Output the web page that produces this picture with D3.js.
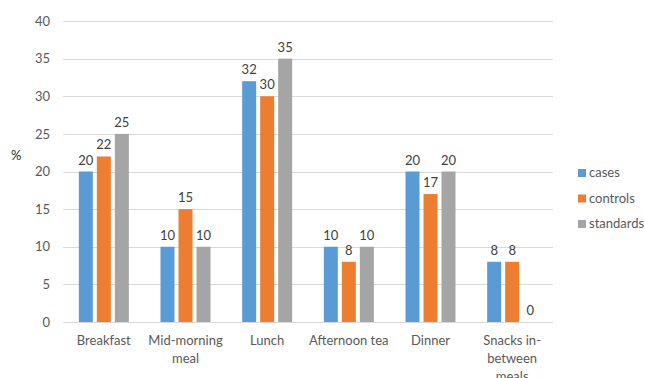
<!DOCTYPE html>
<html>
<head>
<meta charset="utf-8">
<script src="https://cdn.jsdelivr.net/npm/d3@7"></script>
<style>
body { margin: 0; background: #fff; }
text { font-family: Lato, "Open Sans", sans-serif; }
</style>
</head>
<body>
<div id="main"></div>
<script>
// chart data
var categories = ["Breakfast", "Mid-morning meal", "Lunch", "Afternoon tea", "Dinner", "Snacks in-between meals"];
var catLines = [["Breakfast"], ["Mid-morning", "meal"], ["Lunch"], ["Afternoon tea"], ["Dinner"], ["Snacks in-", "between", "meals"]];
var seriesNames = ["cases", "controls", "standards"];
var cases = [20, 10, 32, 10, 20, 8];
var controls = [22, 15, 30, 8, 17, 8];
var standards = [25, 10, 35, 10, 20, 0];
var yTicks = [0, 5, 10, 15, 20, 25, 30, 35, 40];
var colors = ["#5B9BD5", "#ED7D31", "#A5A5A5"];

var w = 645, h = 378;
var seriesVals = [cases, controls, standards];

var svg = d3.select("#main")
    .append("svg")
    .attr("width", w)
    .attr("height", h);

var x0 = d3.scaleBand().domain(categories).range([63, 553]).padding(0);
var groupW = 50;
var x1 = d3.scaleBand().domain(seriesNames).range([0, groupW]).paddingInner(4 / 18);
var y = d3.scaleLinear().domain([0, 40]).range([322, 21]);

// gridlines
svg.append("g")
    .selectAll("line")
    .data(yTicks)
    .enter()
    .append("line")
    .attr("x1", 63)
    .attr("x2", 553)
    .attr("y1", function(d) { return Math.round(y(d)) + 0.5; })
    .attr("y2", function(d) { return Math.round(y(d)) + 0.5; })
    .attr("stroke", "#d9d9d9")
    .attr("stroke-width", 1);

// y axis labels
var yAxis = d3.axisLeft(y).tickValues(yTicks).tickSize(0).tickPadding(13);
var ya = svg.append("g").attr("transform", "translate(63,0)").call(yAxis);
ya.select(".domain").remove();
ya.selectAll("text").attr("fill", "#595959").style("font-size", "13px").style("font-family", "Lato, sans-serif");

svg.append("text")
    .attr("x", 11)
    .attr("y", 160)
    .attr("fill", "#262626")
    .style("font-size", "13px")
    .text("%");

// bars
var groups = svg.selectAll(".grp")
    .data(categories)
    .enter()
    .append("g")
    .attr("transform", function(d) {
        return "translate(" + (x0(d) + (x0.bandwidth() - groupW) / 2) + ",0)";
    });

groups.selectAll("rect")
    .data(function(d, i) {
        return seriesNames.map(function(s, j) { return { s: s, v: seriesVals[j][i], j: j }; });
    })
    .enter()
    .append("rect")
    .attr("x", function(d) { return x1(d.s); })
    .attr("width", x1.bandwidth())
    .attr("y", function(d) { return y(d.v); })
    .attr("height", function(d) { return y(0) - y(d.v); })
    .attr("fill", function(d) { return colors[d.j]; });

groups.selectAll(".lbl")
    .data(function(d, i) {
        return seriesNames.map(function(s, j) { return { s: s, v: seriesVals[j][i], j: j }; });
    })
    .enter()
    .append("text")
    .attr("x", function(d) { return x1(d.s) + x1.bandwidth() / 2; })
    .attr("y", function(d) { return y(d.v) - 7; })
    .attr("text-anchor", "middle")
    .attr("fill", "#404040")
    .style("font-size", "13px")
    .text(function(d) { return d.v; });

// x labels
var xl = svg.selectAll(".xl")
    .data(categories)
    .enter()
    .append("text")
    .attr("x", function(d) { return x0(d) + x0.bandwidth() / 2; })
    .attr("y", 345)
    .attr("text-anchor", "middle")
    .attr("fill", "#595959")
    .style("font-size", "13px");

xl.selectAll("tspan")
    .data(function(d, i) { return catLines[i]; })
    .enter()
    .append("tspan")
    .attr("x", function() { var p = this.parentNode; return p.getAttribute("x"); })
    .attr("dy", function(d, i) { return i === 0 ? 0 : 18; })
    .text(function(d) { return d; });

// legend
var legend = svg.selectAll(".leg")
    .data(seriesNames)
    .enter()
    .append("g")
    .attr("transform", function(d, i) { return "translate(578," + (169 + i * 25.5) + ")"; });

legend.append("rect")
    .attr("width", 8)
    .attr("height", 8)
    .attr("fill", function(d, i) { return colors[i]; });

legend.append("text")
    .attr("x", 11)
    .attr("y", 8)
    .attr("fill", "#595959")
    .style("font-size", "13px")
    .text(function(d) { return d; });
</script>
</body>
</html>
